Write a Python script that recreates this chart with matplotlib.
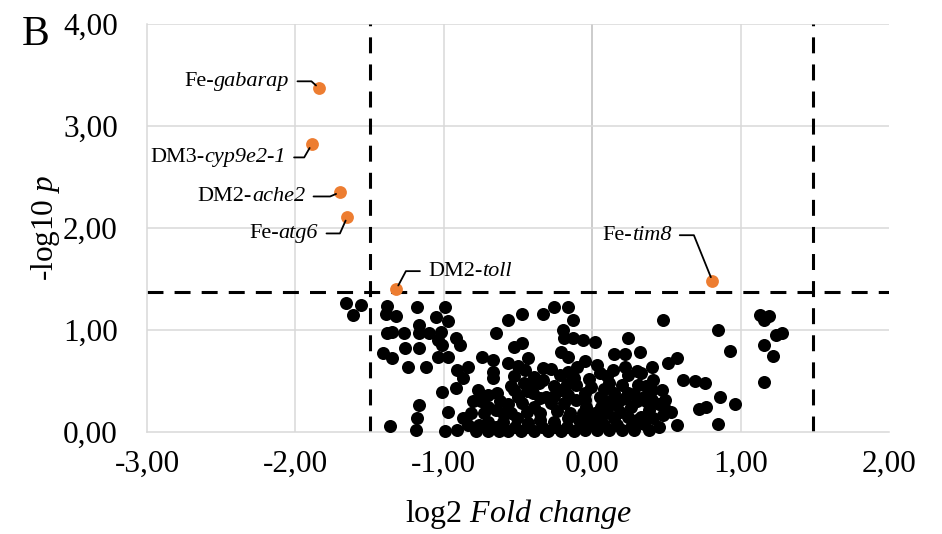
import matplotlib
matplotlib.use("Agg")
import matplotlib.pyplot as plt
import numpy as np

plt.rcParams['font.family'] = ['Liberation Serif', 'DejaVu Serif']
plt.rcParams['mathtext.fontset'] = 'custom'
plt.rcParams['mathtext.rm'] = 'Liberation Serif'
plt.rcParams['mathtext.it'] = 'Liberation Serif:italic'
plt.rcParams['lines.scale_dashes'] = False

# ---- data: non-significant genes (log2 fold change, -log10 p) ----
ns_log2fc = [
    -1.66, -1.56, -1.61,
    -1.38, -1.39, -1.32, -1.18, -1.17,
    -1.38, -1.35, -1.27, -1.17,
    -1.41, -1.35, -1.26, -1.24, -1.17,
    -1.17, -1.18, -1.19, -1.36,
    -0.99, -1.05, -0.97,
    -1.10, -1.02, -1.04, -1.01, -0.92, -0.89, -1.04, -0.97, -1.12, -0.65,
    -0.74, -0.67, -0.91, -0.84, -0.87, -0.67, -0.67,
    -1.01, -0.92, -0.77, -0.70, -0.64,
    -0.97, -0.82, -0.87, -0.73, -0.70, -0.99, -0.91, -0.84, -0.76, -0.65, -0.63,
    -0.78, -0.70, -0.60, -0.55, -0.65,
    -0.57, -0.47, -0.33, -0.26, -0.16, -0.13,
    -0.20, -0.19, -0.13,
    -0.53, -0.47, -0.21, -0.16, -0.43, -0.57, -0.10,
    -0.45, -0.33, -0.39, -0.33, -0.22, -0.16, -0.12, -0.46,
    -0.53, -0.40, -0.31, -0.21, -0.11,
    -0.57, -0.47, -0.39, -0.28, -0.19, -0.11,
    -0.60, -0.51, -0.43, -0.35, -0.26, -0.16, -0.09,
    -0.57, -0.48, -0.39, -0.30, -0.21, -0.12,
    -0.52, -0.44, -0.34, -0.25, -0.17, -0.08, 0.00, 0.08, 0.17, 0.27, 0.35,
    -0.44, -0.35, -0.24, -0.15, -0.06, 0.02, 0.10, 0.19, 0.30, 0.36,
    -0.35, -0.26, -0.16, -0.05, 0.09, 0.30,
    -0.75, -0.62, -0.50, -0.44, -0.26, -0.17, -0.02, 0.08, 0.18, 0.28, 0.36,
    -0.53, -0.28, -0.05, 0.10, 0.30, -0.70, -0.80,
    -0.50, -0.42, -0.55, -0.36,
    -0.06, 0.02, 0.24, 0.32,
    0.15, 0.22, 0.03, 0.05, 0.14, 0.22, 0.24, 0.33, 0.40, 0.41,
    -0.01, 0.11, 0.20, 0.31, 0.40, -0.05, 0.05, 0.15, 0.24, 0.35, 0.40,
    0.22, -0.04, 0.06, 0.15, 0.26, 0.38, 0.45,
    -0.03, 0.06, 0.15, 0.24, 0.33, 0.41,
    -0.05, 0.03, 0.11, 0.20, 0.28, 0.38, 0.45,
    0.48, 0.85, 0.93, 0.51, 0.57, 0.61, 0.69, 0.76, 0.86, 0.96, 0.72, 0.77, 0.85, 0.57,
    0.47, 0.49, 0.50, 0.48, 0.53,
    1.13, 1.19, 1.16, 1.28, 1.24, 1.16, 1.22, 1.16,
]
ns_neglog10p = [
    1.26, 1.25, 1.15,
    1.24, 1.16, 1.14, 1.23, 1.05,
    0.97, 0.98, 0.97, 0.97,
    0.77, 0.73, 0.82, 0.64, 0.82,
    0.26, 0.14, 0.02, 0.06,
    1.23, 1.13, 1.09,
    0.97, 0.98, 0.90, 0.85, 0.92, 0.85, 0.74, 0.74, 0.64, 0.97,
    0.74, 0.71, 0.61, 0.64, 0.53, 0.59, 0.53,
    0.39, 0.43, 0.41, 0.36, 0.38,
    0.20, 0.19, 0.14, 0.19, 0.10, 0.01, 0.02, 0.07, 0.07, 0.05, 0.01,
    0.01, 0.01, 0.19, 0.19, 0.22,
    1.10, 1.16, 1.16, 1.23, 1.23, 1.10,
    1.00, 0.92, 0.92,
    0.83, 0.87, 0.78, 0.74, 0.73, 0.68, 0.64,
    0.61, 0.63, 0.54, 0.51, 0.56, 0.59, 0.53, 0.48,
    0.41, 0.38, 0.34, 0.41, 0.46,
    0.27, 0.28, 0.25, 0.28, 0.28, 0.31,
    0.10, 0.14, 0.09, 0.12, 0.10, 0.14, 0.12,
    0.01, 0.01, 0.01, 0.01, 0.01, 0.01,
    0.05, 0.05, 0.05, 0.05, 0.05, 0.05, 0.07, 0.07, 0.07, 0.07, 0.08,
    0.20, 0.19, 0.21, 0.19, 0.19, 0.19, 0.20, 0.20, 0.12, 0.30,
    0.33, 0.35, 0.36, 0.31, 0.30, 0.30,
    0.30, 0.30, 0.34, 0.40, 0.45, 0.47, 0.52, 0.42, 0.30, 0.37, 0.45,
    0.55, 0.62, 0.70, 0.55, 0.60, 0.25, 0.30,
    0.65, 0.45, 0.45, 0.48,
    0.90, 0.88, 0.92, 0.78,
    0.76, 0.76, 0.66, 0.58, 0.61, 0.64, 0.56, 0.58, 0.64, 0.51,
    0.44, 0.48, 0.46, 0.46, 0.41, 0.38, 0.34, 0.38, 0.38, 0.34, 0.31,
    0.33, 0.25, 0.25, 0.27, 0.25, 0.22, 0.27,
    0.14, 0.12, 0.14, 0.15, 0.15, 0.14,
    0.02, 0.02, 0.02, 0.02, 0.02, 0.02, 0.05,
    1.10, 1.00, 0.79, 0.68, 0.73, 0.51, 0.50, 0.48, 0.34, 0.27, 0.23, 0.25, 0.08, 0.07,
    0.41, 0.31, 0.22, 0.17, 0.20,
    1.15, 1.14, 1.10, 0.97, 0.95, 0.85, 0.75, 0.49,
]

# ---- data: highlighted genes ----
sig_prefix = ["Fe-", "DM3-", "DM2-", "Fe-", "DM2-", "Fe-"]
sig_genes = ["gabarap", "cyp9e2-1", "ache2", "atg6", "toll", "tim8"]
sig_log2fc = [-1.84, -1.89, -1.70, -1.65, -1.32, 0.81]
sig_neglog10p = [3.37, 2.82, 2.35, 2.11, 1.40, 1.48]

fc_threshold_lo = -1.5
fc_threshold_hi = 1.49
p_threshold = 1.37

x_ticks = [-3, -2, -1, 0, 1, 2]
y_ticks = [0, 1, 2, 3, 4]

# label layout: offset (points) of text anchor, alignment, angleB of leader
label_offsets = [(-21.6, 5), (-18.7, -9.4), (-25, -3), (-21, -12), (23, 13), (-29.5, 33)]
label_ha = ["right", "right", "right", "right", "left", "right"]
label_angleB = [138, -120, -157, -114, 62, 112]

fig = plt.figure(figsize=(9.42, 5.34), dpi=100)
ax = fig.add_axes([147/942, 1-432/534, (889-147)/942, (432-24)/534])
ax.set_xlim(-3, 2)
ax.set_ylim(0, 4)

grid_c = '#d9d9d9'
for xv in x_ticks[1:-1]:
    ax.axvline(xv, color=('#bfbfbf' if xv == 0 else grid_c), lw=1.1, zorder=0)
for yv in y_ticks[1:]:
    ax.axhline(yv, color=grid_c, lw=1.1, zorder=0)

for s in ['top', 'right']:
    ax.spines[s].set_visible(False)
ax.spines['left'].set_color(grid_c)
ax.spines['bottom'].set_color(grid_c)
ax.spines['left'].set_linewidth(1.1)
ax.spines['bottom'].set_linewidth(1.1)

ax.set_xticks(x_ticks)
ax.set_yticks(y_ticks)
ax.set_xticklabels([f"{v:.2f}".replace('.', ',') for v in x_ticks])
ax.set_yticklabels([f"{v:.2f}".replace('.', ',') for v in y_ticks])
ax.tick_params(axis='both', length=0, labelsize=22.5)
ax.tick_params(axis='x', pad=13)
ax.tick_params(axis='y', pad=21)

dash = (0, (11.5, 8.0))
ax.axvline(fc_threshold_lo, color='black', lw=2.2, linestyle=dash, zorder=2)
ax.axvline(fc_threshold_hi, color='black', lw=2.2, linestyle=dash, zorder=2)
ax.axhline(p_threshold, color='black', lw=2.2, linestyle=dash, zorder=2)

ax.scatter(ns_log2fc, ns_neglog10p, s=88, color='black', linewidths=0, zorder=3, clip_on=False)
ax.scatter(sig_log2fc, sig_neglog10p, s=85, color='#ED7D31', linewidths=0, zorder=4, clip_on=False)

FS = 16
for i in range(len(sig_genes)):
    xy = (sig_log2fc[i], sig_neglog10p[i])
    if label_ha[i] == 'right':
        first = ax.annotate(sig_genes[i], xy=xy, xytext=label_offsets[i],
                            textcoords='offset points', ha='right', va='center',
                            fontsize=FS, style='italic', zorder=5)
        ax.annotate(sig_prefix[i], xy=(0, 0.5), xycoords=first, ha='right', va='center',
                    fontsize=FS, zorder=5)
        start = (1.0, 0.5)
    else:
        first = ax.annotate(sig_prefix[i], xy=xy, xytext=label_offsets[i],
                            textcoords='offset points', ha='left', va='center',
                            fontsize=FS, zorder=5)
        ax.annotate(sig_genes[i], xy=(1, 0.5), xycoords=first, ha='left', va='center',
                    fontsize=FS, style='italic', zorder=5)
        start = (0.0, 0.5)
    ax.annotate('', xy=xy, xycoords='data', xytext=start, textcoords=first,
                arrowprops=dict(arrowstyle='-', color='black', lw=1.3,
                                connectionstyle=f"angle,angleA=0,angleB={label_angleB[i]},rad=0",
                                shrinkA=6, shrinkB=3),
                zorder=5)

fig.text(45/942, 1-228/534, r"-log10 $\mathit{p}$", rotation=90, ha='center', va='center', fontsize=22.5)
fig.text(518/942, 1-514/534, r"log2 $\mathit{Fold\ change}$", ha='center', va='center', fontsize=23)
fig.text(36/942, 1-35/534, "B", ha='center', va='center', fontsize=30)

fig.savefig("out.png", dpi=100)
